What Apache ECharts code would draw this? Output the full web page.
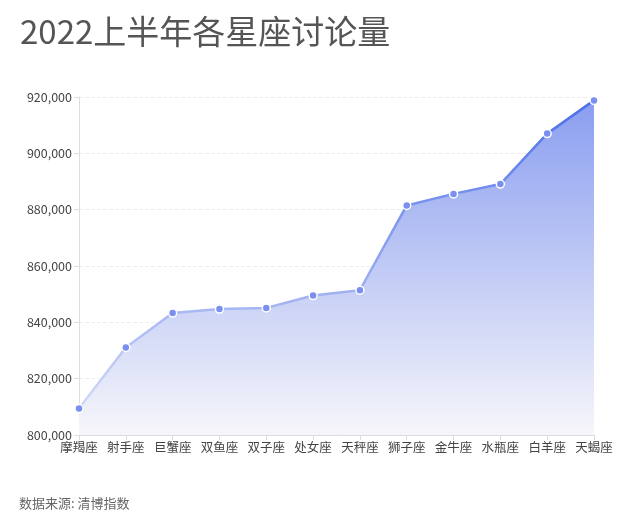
<!DOCTYPE html>
<html><head><meta charset="utf-8">
<script src="https://cdn.jsdelivr.net/npm/echarts@6/dist/echarts.min.js"></script>
<style>html,body{margin:0;padding:0;background:#fff}#c{width:640px;height:527px}</style>
</head><body><div id="c"></div>
<script>
const categories = ['摩羯座','射手座','巨蟹座','双鱼座','双子座','处女座','天秤座','狮子座','金牛座','水瓶座','白羊座','天蝎座'];
const values = [809400, 831100, 843300, 844700, 845100, 849500, 851400, 881500, 885600, 889100, 907000, 918800];
const titleText = '2022上半年各星座讨论量';
const sourceText = '数据来源: 清博指数';
const font = '"Noto Sans CJK SC","Noto Sans",sans-serif';
const chart = echarts.init(document.getElementById('c'));
chart.setOption({
  backgroundColor: '#fff',
  textStyle: {fontFamily: font},
  title: [
    {text: titleText, left: 15, top: 10, textStyle: {fontSize: 33, fontWeight: 'normal', color: '#555', fontFamily: font}},
    {text: sourceText, left: 14, top: 492, textStyle: {fontSize: 13, fontWeight: 'normal', color: '#666', fontFamily: font}}
  ],
  grid: {left: 79, right: 46, top: 97, bottom: 92},
  xAxis: {
    type: 'category', data: categories, boundaryGap: false,
    axisLine: {lineStyle: {color: '#ddd'}},
    axisTick: {show: true, alignWithLabel: true, lineStyle: {color: '#ddd'}},
    axisLabel: {color: '#444', fontSize: 12.5, margin: 6, interval: 0, fontFamily: font}
  },
  yAxis: {
    type: 'value', min: 800000, max: 920000, interval: 20000,
    axisLine: {show: true, lineStyle: {color: '#ddd'}},
    axisTick: {show: true, lineStyle: {color: '#ddd'}},
    axisLabel: {color: '#444', fontSize: 12.5, margin: 7, fontFamily: font,
      formatter: v => v.toLocaleString('en-US')},
    splitLine: {lineStyle: {color: '#eee', type: 'dashed'}}
  },
  series: [{
    type: 'line', data: values,
    symbol: 'circle', symbolSize: 8,
    itemStyle: {color: '#7a8ff0', borderColor: '#fff', borderWidth: 1.5},
    lineStyle: {width: 2.5, color: new echarts.graphic.LinearGradient(0,0,0,1,[
      {offset: 0, color: '#4a6ee8'}, {offset: 1, color: '#d4daf7'}])},
    areaStyle: {origin: 'start', opacity: 1, color: new echarts.graphic.LinearGradient(0,0,0,1,[
      {offset: 0, color: '#8a9ef0'}, {offset: 1, color: '#f6f6fa'}])}
  }]
});
</script></body></html>
